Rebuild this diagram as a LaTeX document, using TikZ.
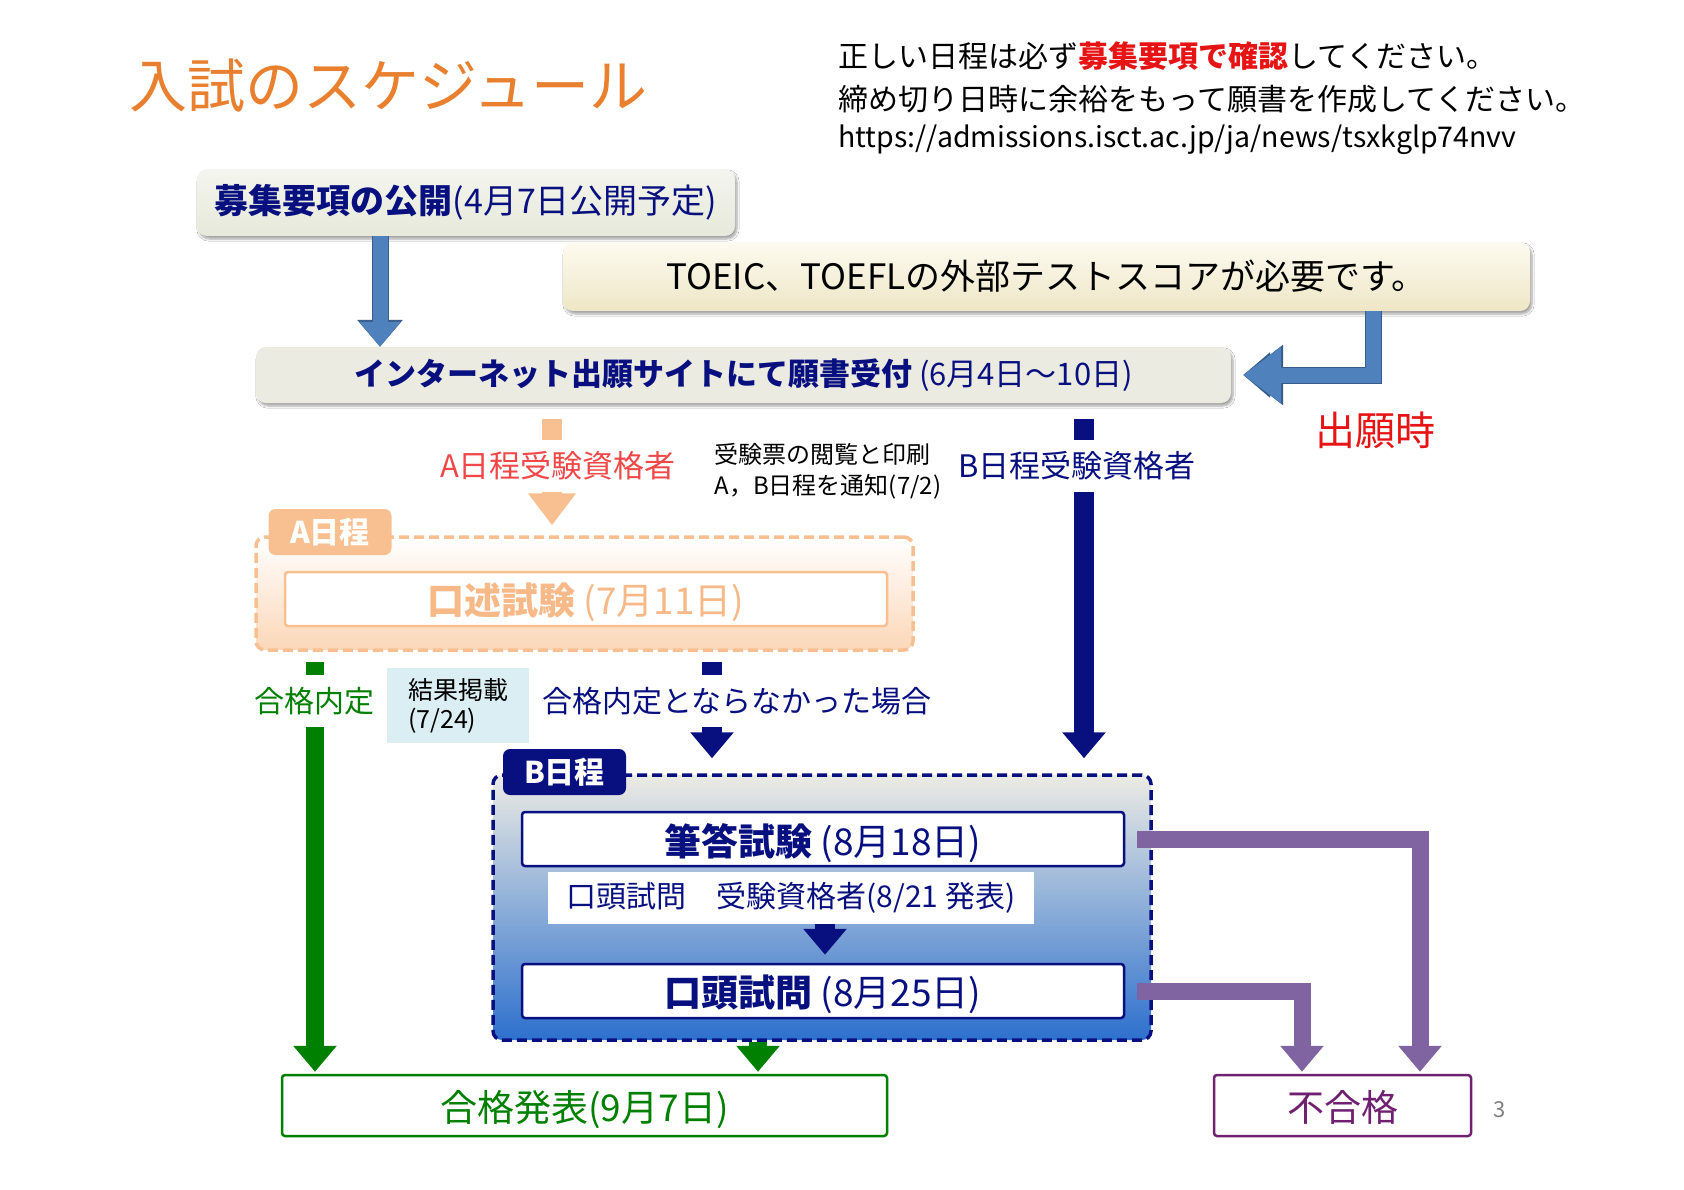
\documentclass[tikz,border=0pt]{standalone}
\usepackage{fontspec}
\setmainfont{Noto Sans CJK JP}
\usepackage{tikz}
\usetikzlibrary{arrows.meta, positioning, shadows.blur, calc}

\definecolor{titleorange}{RGB}{232,128,48}
\definecolor{navyc}{RGB}{8,16,128}
\definecolor{alertred}{RGB}{230,20,20}
\definecolor{coral}{RGB}{240,72,72}
\definecolor{peach}{RGB}{248,192,145}
\definecolor{peachtext}{RGB}{247,185,135}
\definecolor{peachbot}{RGB}{252,215,184}
\definecolor{steel}{RGB}{79,129,189}
\definecolor{steeldark}{RGB}{56,93,138}
\definecolor{passgreen}{RGB}{0,128,0}
\definecolor{lavender}{RGB}{128,100,162}
\definecolor{plum}{RGB}{112,32,112}
\definecolor{paleblue}{RGB}{219,238,244}
\definecolor{pubtop}{RGB}{244,245,238}
\definecolor{pubbot}{RGB}{230,233,218}
\definecolor{toeictop}{RGB}{253,251,240}
\definecolor{toeicbot}{RGB}{238,230,198}
\definecolor{applyfill}{RGB}{236,235,225}
\definecolor{btop}{RGB}{236,235,228}
\definecolor{bmid}{RGB}{172,196,222}
\definecolor{bbot}{RGB}{45,112,205}

\newcommand{\fsz}[2]{\fontsize{#1}{#2}\selectfont}

\tikzset{
    panel/.style={rectangle, rounded corners=10pt, inner sep=0pt, align=center, blur shadow={shadow xshift=2pt, shadow yshift=-3pt, shadow blur steps=6, shadow opacity=35}},
    frame/.style={rectangle, rounded corners=9pt, inner sep=0pt, line width=3.5pt, dash pattern=on 10pt off 5pt},
    tab/.style={rectangle, rounded corners=7pt, inner sep=0pt, minimum width=123pt, minimum height=46pt, text=white, font=\fsz{30}{36}\bfseries},
    exambox/.style={draw, rectangle, rounded corners=3pt, line width=2.5pt, fill=white, inner sep=0pt, text depth=0pt, minimum width=602pt, minimum height=54pt, font=\fsz{37}{44}},
    resultbox/.style={draw, rectangle, rounded corners=3pt, line width=2.5pt, fill=white, inner sep=0pt, text depth=0pt, minimum height=61pt, font=\fsz{37}{44}},
    gap/.style={fill=white, inner xsep=4pt, inner ysep=12pt},
    bluearrow/.style={draw=steel, line width=15pt, line join=miter, -{Triangle[length=25pt, width=40pt]},
        preaction={draw=steeldark, line width=17pt, -{Triangle[length=27pt, width=44pt]}}},
    barrow/.style={line width=#1, line join=miter},
    headS/.style={-{Triangle[length=26pt, width=42pt]}},
    headL/.style={-{Triangle[length=32pt, width=46pt]}}
}

\begin{document}
\begin{tikzpicture}[x=1pt, y=-1pt]

    \fill[white] (0,0) rectangle (1684,1190);
    \useasboundingbox (0,0) rectangle (1684,1190);

    % -----------------------------------------------------------------
    % TITOLO E AVVISI
    % -----------------------------------------------------------------
    \node[text=titleorange, font=\fsz{58}{66}] (title) at (388,86) {入試のスケジュール};
    \node[anchor=west, font=\fsz{30}{36}] (note1) at (835,56) {正しい日程は必ず{\color{alertred}\bfseries 募集要項で確認}してください。};
    \node[anchor=west, font=\fsz{30}{36}] (note2) at (835,99) {締め切り日時に余裕をもって願書を作成してください。};
    \node[anchor=west, font=\fsz{28.5}{34}] (url) at (835,140) {https://admissions.isct.ac.jp/ja/news/tsxkglp74nvv};

    % -----------------------------------------------------------------
    % PUBBLICAZIONE E DOMANDA
    % -----------------------------------------------------------------
    \node[panel, top color=pubtop, bottom color=pubbot, minimum width=538pt, minimum height=67pt, text=navyc, font=\fsz{34}{40}] (pub) at (466,202.5) {{\bfseries 募集要項の公開}(4月7日公開予定)};
    \node[panel, top color=toeictop, bottom color=toeicbot, minimum width=967pt, minimum height=69pt, font=\fsz{35}{42}] (toeic) at (1046.5,276.5) {TOEIC、TOEFLの外部テストスコアが必要です。};
    \node[panel, fill=applyfill, minimum width=975pt, minimum height=56pt, text=navyc, font=\fsz{31}{38}] (apply) at (743.5,375) {{\bfseries インターネット出願サイトにて願書受付}\ (6月4日～10日)};
    \node[text=alertred, font=\fsz{40}{48}] (when) at (1375,430) {出願時};
    \node[anchor=west, align=left, font=\fsz{24}{31}] (ticket) at (711,471.5) {受験票の閲覧と印刷\\A，B日程を通知(7/2)};

    % -----------------------------------------------------------------
    % A NITTEI
    % -----------------------------------------------------------------
    \node[frame, draw=peach, top color=white, bottom color=peachbot, minimum width=657pt, minimum height=113pt] (aframe) at (584.5,593.5) {};
    \node[tab, fill=peach] (atab) at (330,532) {A日程};
    \node[exambox, draw=peach, text=peachtext] (oralA) at (586,599) {{\bfseries 口述試験}\ (7月11日)};

    % -----------------------------------------------------------------
    % B NITTEI
    % -----------------------------------------------------------------
    \node[frame, draw=navyc, top color=btop, middle color=bmid, bottom color=bbot, minimum width=658pt, minimum height=265pt] (bframe) at (822,907.5) {};
    \node[tab, fill=navyc] (btab) at (564.5,772) {B日程};
    \node[exambox, draw=navyc, text=navyc] (written) at (823,839) {{\bfseries 筆答試験}\ (8月18日)};
    \node[exambox, draw=navyc, text=navyc] (oralB) at (823,991) {{\bfseries 口頭試問}\ (8月25日)};

    % -----------------------------------------------------------------
    % RISULTATI
    % -----------------------------------------------------------------
    \node[resultbox, draw=passgreen, text=passgreen, minimum width=605pt] (pass) at (584.5,1105.5) {合格発表(9月7日)};
    \node[resultbox, draw=plum, text=plum, minimum width=257pt] (fail) at (1342.5,1105.5) {不合格};
    \node[fill=paleblue, minimum width=142pt, minimum height=75pt, inner xsep=16pt, align=left, font=\fsz{25}{29}] (notice) at (458,705.5) {結果掲載\\(7/24)};
    \node[text=gray, font=\fsz{22}{26}] (pageno) at (1500,1110) {3};

    % -----------------------------------------------------------------
    % FRECCE
    % -----------------------------------------------------------------
    \coordinate (xPub) at (380,0);
    \coordinate (xToeic) at (1373,0);
    \coordinate (xA) at (552,0);
    \coordinate (xB) at (1084,0);
    \coordinate (xPass) at (315,0);
    \coordinate (xRetry) at (712,0);
    \coordinate (xOral) at (825,0);
    \coordinate (xPassB) at (758,0);
    \coordinate (xFailW) at (1420,0);
    \coordinate (xFailO) at (1302,0);

    \draw[bluearrow] (pub.south -| xPub) -- (apply.north -| xPub);
    \draw[bluearrow, -{Triangle[length=38pt, width=54pt]}, shorten >=12pt,
        preaction={draw=steeldark, line width=17pt, -{Triangle[length=40pt, width=58pt]}, shorten >=12pt}]
        (toeic.south -| xToeic) |- (apply.east);

    \draw[barrow=20pt, draw=peach, headL, shorten <=16pt, shorten >=10pt] (apply.south -| xA) -- (aframe.north -| xA);
    \draw[barrow=20pt, draw=navyc, headS, shorten <=16pt, shorten >=15pt] (apply.south -| xB) -- (bframe.north -| xB);
    \draw[barrow=18pt, draw=passgreen, headS, shorten <=10pt, shorten >=2pt] (aframe.south -| xPass) -- (pass.north -| xPass);
    \draw[barrow=20pt, draw=navyc, headS, shorten <=10pt, shorten >=15pt] (aframe.south -| xRetry) -- (bframe.north -| xRetry);
    \draw[barrow=20pt, draw=navyc, headS, shorten <=8pt, shorten >=8pt] (written.south -| xOral) -- (oralB.north -| xOral);
    \draw[barrow=18pt, draw=passgreen, headS, shorten >=2pt] (bframe.south -| xPassB) -- (pass.north -| xPassB);
    \draw[barrow=17pt, draw=lavender, headS, shorten <=12pt, shorten >=2pt] (written.east) -| (fail.north -| xFailW);
    \draw[barrow=17pt, draw=lavender, headS, shorten <=12pt, shorten >=2pt] (oralB.east) -| (fail.north -| xFailO);

    % etichette sopra le frecce
    \node[gap, text=coral, font=\fsz{31}{38}] (alabel) at (558,466) {A日程受験資格者};
    \node[gap, text=navyc, font=\fsz{31}{38}] (blabel) at (1077,466) {B日程受験資格者};
    \node[gap, text=passgreen, font=\fsz{30}{36}] (passlabel) at (314,701) {合格内定};
    \node[gap, text=navyc, font=\fsz{30}{36}] (retrylabel) at (737,701) {合格内定とならなかった場合};
    \node[fill=white, minimum width=486pt, minimum height=52pt, inner sep=0pt, text=navyc, font=\fsz{30}{36}] (orallabel) at (791,898) {口頭試問　受験資格者(8/21 発表)};

\end{tikzpicture}
\end{document}
